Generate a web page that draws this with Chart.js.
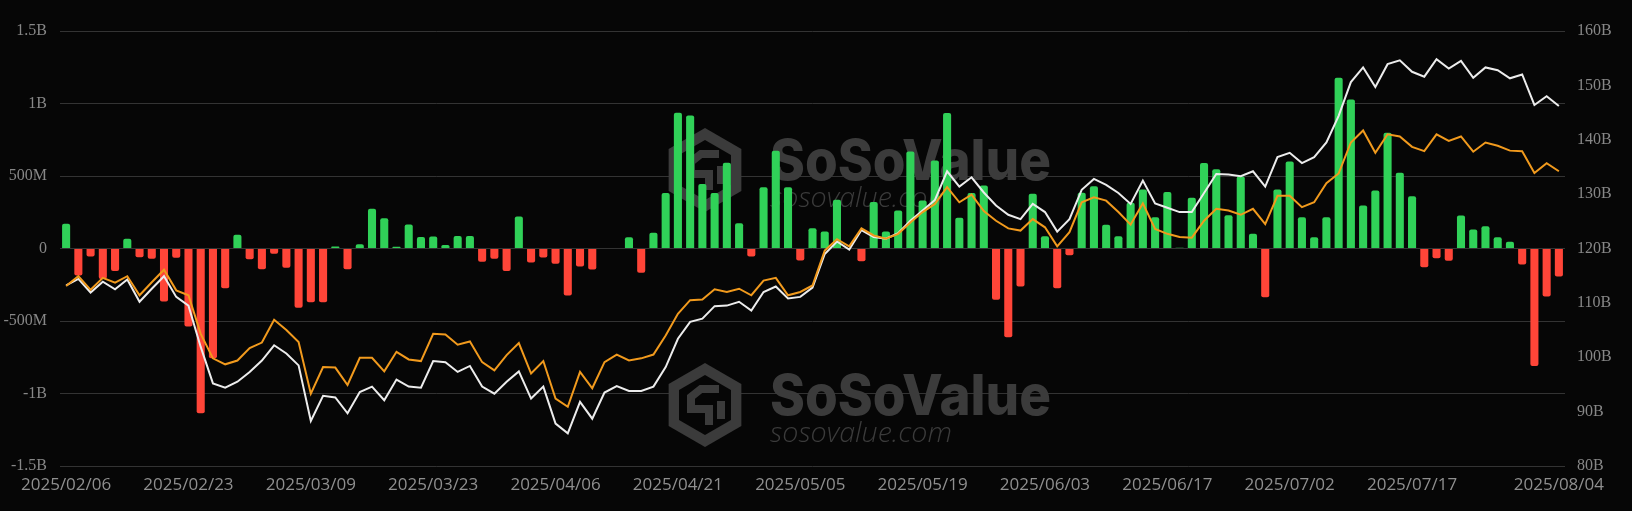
<!DOCTYPE html>
<html>
<head>
<meta charset="utf-8">
<script src="https://cdn.jsdelivr.net/npm/chart.js@4/dist/chart.umd.min.js"></script>
<style>
  html, body { margin: 0; padding: 0; background: #060606; }
  #chart { display: block; }
</style>
</head>
<body>
<canvas id="chart" width="1632" height="511"></canvas>
<script>
// tick labels shown on the x axis (category index -> date)
const tickIdx = [0, 10, 20, 30, 40, 50, 60, 70, 80, 90, 100, 110, 122]
const tickLabels = ['2025/02/06', '2025/02/23', '2025/03/09', '2025/03/23', '2025/04/06', '2025/04/21',
    '2025/05/05', '2025/05/19', '2025/06/03', '2025/06/17', '2025/07/02', '2025/07/17', '2025/08/04']

// daily net inflow, in millions
const netFlow = [
    170, -186, -55, -210, -156, 67, -60, -71, -366, -64,
    -538, -1136, -757, -274, 94, -74, -143, -37, -133, -409,
    -370, -370, 14, -143, 30, 274, 209, 12, 166, 80,
    83, 25, 87, 87, -92, -71, -156, 221, -97, -62,
    -106, -324, -124, -145, -3, 3, 78, -168, 108, 382,
    936, 918, 444, 382, 591, 175, -55, 423, 674, 423,
    -83, 140, 117, 336, 0, -88, 320, 117, 262, 669,
    331, 607, 934, 212, 382, 435, -354, -612, -262, 377,
    85, -274, -46, 384, 430, 163, 85, 315, 407, 216,
    389, 5, 350, 589, 547, 230, 497, 101, -336, 407,
    600, 216, 78, 216, 1178, 1028, 297, 400, 798, 522,
    361, -129, -67, -85, 228, 131, 154, 78, 46, -110,
    -810, -331, -193
]

// white line, in billions
const totalAssets = [
    113.2, 114.4, 111.9, 113.9, 112.5, 114.3, 110.2, 112.6, 114.9, 111.1,
    109.5, 101.9, 95.2, 94.4, 95.5, 97.3, 99.4, 102.2, 100.7, 98.5,
    88.3, 92.9, 92.6, 89.7, 93.6, 94.6, 92.1, 95.9, 94.6, 94.4,
    99.3, 99.1, 97.3, 98.4, 94.6, 93.3, 95.5, 97.4, 92.4, 94.6,
    87.8, 86.0, 91.8, 88.7, 93.5, 94.7, 93.8, 93.8, 94.6, 98.2,
    103.4, 106.5, 107.1, 109.4, 109.5, 110.2, 108.6, 112.0, 113.0, 110.8,
    111.1, 112.8, 119.0, 121.3, 119.8, 123.4, 122.1, 121.8, 122.8, 125.1,
    127.0, 128.9, 134.2, 131.4, 133.1, 130.3, 127.9, 126.2, 125.4, 128.2,
    126.7, 123.1, 125.4, 130.8, 132.8, 131.7, 130.2, 128.2, 132.5, 128.3,
    127.5, 126.7, 126.7, 130.2, 133.7, 133.6, 133.3, 134.2, 131.4, 136.8,
    137.6, 135.7, 136.8, 139.5, 144.4, 150.6, 153.3, 149.7, 153.9, 154.6,
    152.5, 151.6, 154.8, 153.1, 154.5, 151.4, 153.3, 152.8, 151.3, 152.0,
    146.4, 148.0, 146.2
]

// orange line, in billions
const cumulativeFlow = [
    113.1, 114.9, 112.4, 114.6, 113.7, 114.9, 111.4, 113.8, 116.1, 112.3,
    111.4, 104.3, 99.8, 98.7, 99.4, 101.7, 102.7, 106.9, 105.0, 102.8,
    93.3, 98.2, 98.1, 94.9, 99.9, 99.9, 97.4, 101.0, 99.6, 99.3,
    104.3, 104.2, 102.3, 102.9, 99.1, 97.6, 100.4, 102.6, 97.0, 99.3,
    92.4, 90.9, 97.3, 94.3, 99.1, 100.5, 99.4, 99.8, 100.5, 104.0,
    108.0, 110.5, 110.6, 112.5, 112.0, 112.6, 111.4, 114.1, 114.6, 111.4,
    112.0, 113.2, 119.6, 121.7, 120.4, 123.7, 122.4, 121.8, 122.7, 124.8,
    126.7, 128.2, 131.3, 128.5, 129.9, 126.9, 125.1, 123.7, 123.3, 125.4,
    123.9, 120.4, 123.0, 128.5, 129.4, 128.8, 126.7, 124.4, 128.3, 123.6,
    122.7, 122.1, 122.0, 125.1, 127.3, 127.0, 126.2, 127.3, 124.5, 129.7,
    129.7, 127.6, 128.5, 132.0, 133.8, 139.5, 141.7, 137.6, 141.0, 140.6,
    138.7, 137.9, 141.0, 139.8, 140.6, 137.8, 139.5, 138.9, 138.0, 137.9,
    133.9, 135.7, 134.2
]

const categories = netFlow.map((v, i) => i)

const BG = '#060606'
const GREEN = '#30d158'
const RED = '#ff4538'
const MARK = '#3b3b3b'

function fmtFlow(v) {
    if (v === 0) return '0'
    if (Math.abs(v) >= 1000) return (v / 1000) + 'B'
    return v + 'M'
}

function hexPath(ctx, cx, cy, r) {
    ctx.beginPath()
    for (let k = 0; k < 6; k++) {
        const a = Math.PI / 180 * (60 * k - 90)
        const x = cx + r * Math.cos(a), y = cy + r * Math.sin(a)
        if (k === 0) ctx.moveTo(x, y); else ctx.lineTo(x, y)
    }
    ctx.closePath()
}

function fitText(ctx, text, x, y, font, width) {
    ctx.font = font
    const w = ctx.measureText(text).width
    ctx.save()
    ctx.translate(x, y)
    ctx.scale(width / w, 1)
    ctx.fillText(text, 0, 0)
    ctx.restore()
}

// logo + texte du filigrane
function drawMark(ctx, cx, cy, tx, base) {
    ctx.save()
    ctx.fillStyle = MARK
    hexPath(ctx, cx, cy, 42)
    ctx.fill()
    ctx.fillStyle = BG
    hexPath(ctx, cx, cy, 30)
    ctx.fill()
    // motif interieur
    ctx.strokeStyle = MARK
    ctx.lineWidth = 8
    ctx.lineJoin = 'miter'
    ctx.beginPath()
    ctx.moveTo(cx + 14, cy - 16)
    ctx.lineTo(cx - 4, cy - 16)
    ctx.lineTo(cx - 14, cy - 8)
    ctx.lineTo(cx - 14, cy + 4)
    ctx.lineTo(cx + 4, cy + 4)
    ctx.lineTo(cx + 4, cy + 20)
    ctx.stroke()
    ctx.beginPath()
    ctx.moveTo(cx + 16, cy - 4)
    ctx.lineTo(cx + 16, cy + 14)
    ctx.stroke()
    ctx.fillStyle = MARK
    ctx.textBaseline = 'alphabetic'
    fitText(ctx, 'SoSoValue', tx, base, '800 56px Inter', 281)
    fitText(ctx, 'sosovalue.com', tx, base + 27, 'italic 300 28px "Open Sans"', 182)
    ctx.restore()
}

const background = {
    id: 'background',
    beforeDraw(chart) {
        const ctx = chart.ctx
        ctx.save()
        ctx.fillStyle = BG
        ctx.fillRect(0, 0, chart.width, chart.height)
        ctx.restore()
    },
    beforeDatasetsDraw(chart) {
        drawMark(chart.ctx, 705, 170, 770, 180)
        drawMark(chart.ctx, 705, 405, 770, 415)
    }
}

const ctx = document.getElementById('chart')

new Chart(ctx, {
    data: {
        labels: categories,
        datasets: [
            {
                type: 'line',
                label: 'orange',
                data: cumulativeFlow,
                yAxisID: 'y1',
                borderColor: '#f19a1d',
                borderWidth: 2,
                pointRadius: 0,
                tension: 0,
                order: 0
            },
            {
                type: 'line',
                label: 'white',
                data: totalAssets,
                yAxisID: 'y1',
                borderColor: '#ececec',
                borderWidth: 2,
                pointRadius: 0,
                tension: 0,
                order: 1
            },
            {
                type: 'bar',
                label: 'flow',
                data: netFlow,
                yAxisID: 'y',
                backgroundColor: netFlow.map(v => v >= 0 ? GREEN : RED),
                barPercentage: 0.66,
                categoryPercentage: 1,
                borderRadius: 2,
                order: 2
            }
        ]
    },
    options: {
        responsive: false,
        animation: false,
        layout: { padding: { top: 31, left: 0, right: 0, bottom: 0 } },
        plugins: {
            legend: { display: false },
            tooltip: { enabled: false }
        },
        scales: {
            x: {
                type: 'category',
                offset: true,
                grid: { display: false },
                border: { display: false },
                afterBuildTicks: (s) => {
                    s.ticks = s.ticks.filter(t => tickIdx.includes(t.value))
                },
                afterFit: (s) => { s.height = 45 },
                ticks: {
                    autoSkip: false,
                    maxRotation: 0,
                    minRotation: 0,
                    padding: 1,
                    color: '#8f8f8f',
                    font: { family: '"Open Sans"', size: 17 },
                    callback: (v) => tickLabels[tickIdx.indexOf(v)]
                }
            },
            y: {
                position: 'left',
                min: -1500,
                max: 1500,
                afterFit: (s) => { s.width = 60 },
                grid: { color: '#333333', lineWidth: 1, drawTicks: false },
                border: { display: false },
                ticks: {
                    stepSize: 500,
                    padding: 13,
                    color: '#878787',
                    font: { family: '"Liberation Serif"', size: 16 },
                    callback: fmtFlow
                }
            },
            y1: {
                position: 'right',
                min: 80,
                max: 160,
                afterFit: (s) => { s.width = 67 },
                grid: { display: false, drawTicks: false },
                border: { display: false },
                ticks: {
                    stepSize: 10,
                    padding: 12,
                    color: '#878787',
                    font: { family: '"Liberation Serif"', size: 16 },
                    callback: (v) => v + 'B'
                }
            }
        }
    },
    plugins: [background]
});
</script>
</body>
</html>
